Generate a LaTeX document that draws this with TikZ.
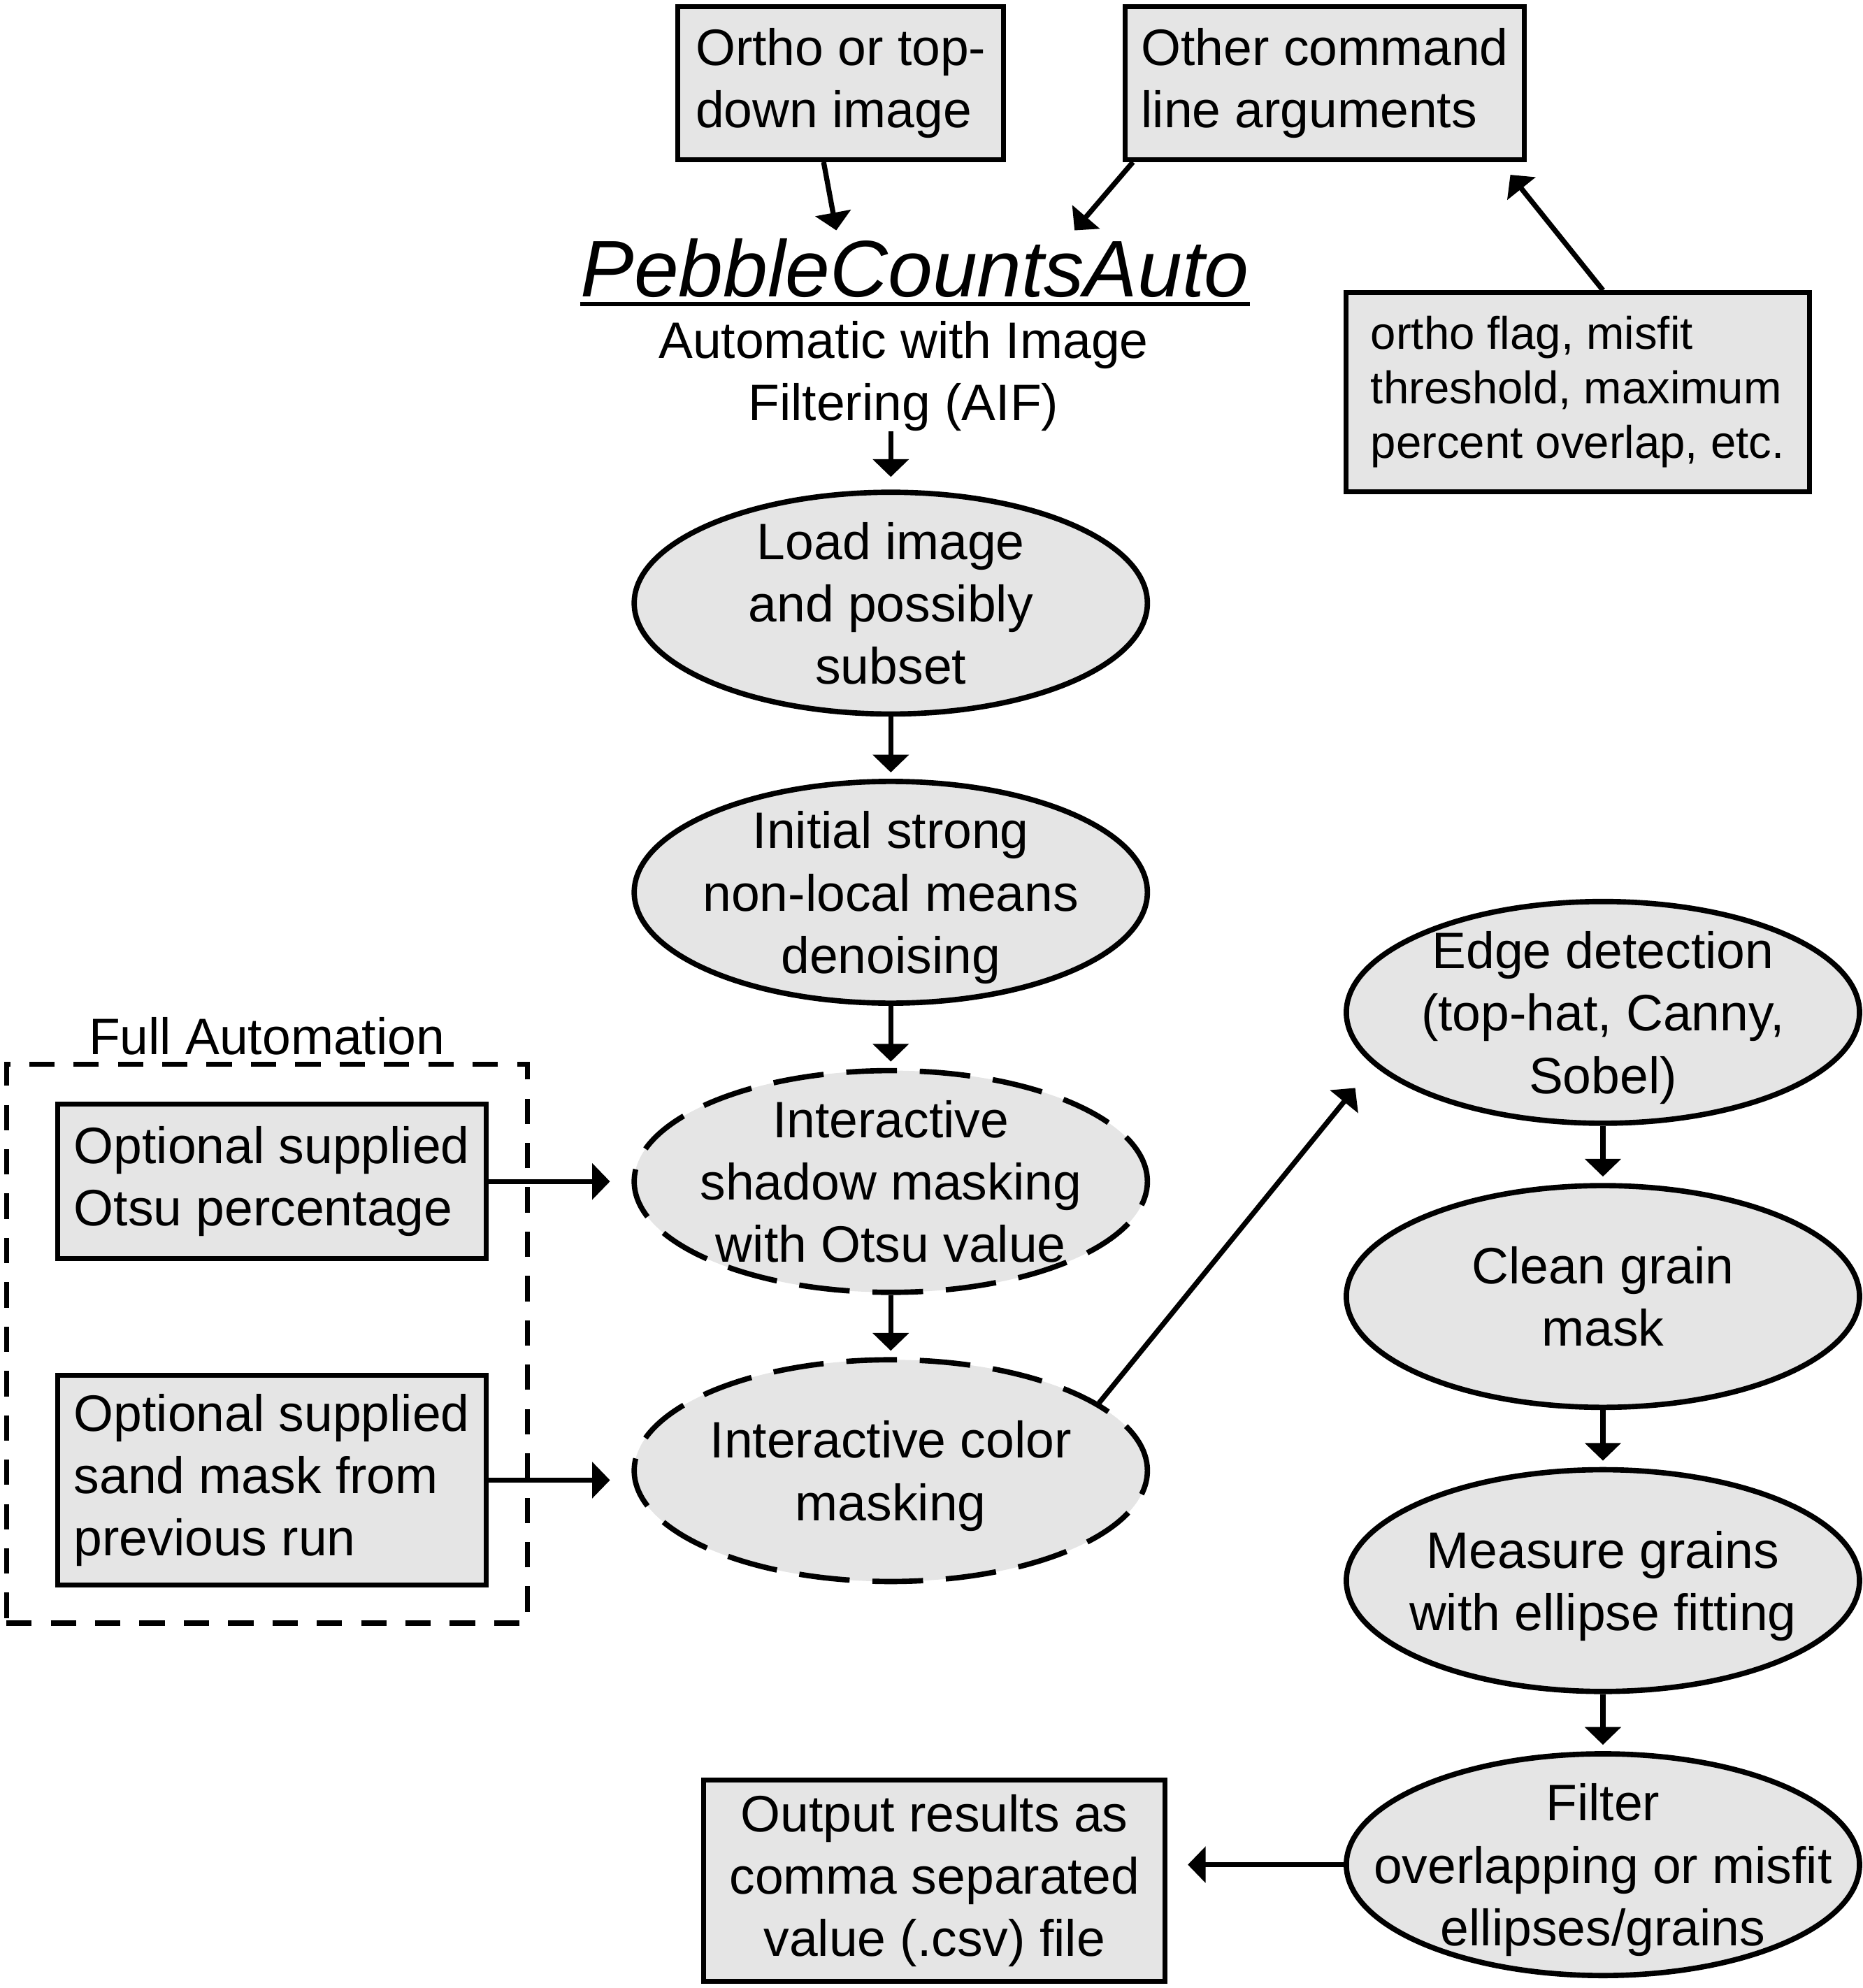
\documentclass[tikz,border=0pt]{standalone}
\usepackage{fontspec}
\setmainfont{Liberation Sans}
\usetikzlibrary{shapes.geometric, arrows.meta, positioning}

\begin{document}
\begin{tikzpicture}[
    x=0.2mm, y=-0.2mm,
    font=\fontsize{23}{28}\selectfont,
    box/.style={rectangle, draw, fill=black!10, line width=2.2pt, align=left, inner sep=0pt},
    proc/.style={ellipse, draw, fill=black!10, line width=2.4pt, align=center, minimum width=8.1cm, minimum height=3.5cm, inner sep=-3cm, text depth=0pt},
    dproc/.style={proc, dash pattern=on 0.8cm off 0.36cm},
    frame/.style={rectangle, draw, line width=2.2pt, dash pattern=on 0.4cm off 0.3cm, minimum width=8.22cm, minimum height=8.82cm},
    arrow/.style={-{Triangle[length=0.28cm, width=0.56cm]}, line width=2.3pt}
]
\useasboundingbox (0,0) rectangle (1470,1569);

% Top: inputs and program name
\node[box, minimum width=5.14cm, minimum height=2.42cm] (ortho) at (663.5,65.5) {Ortho or top-\\down image};
\node[box, minimum width=6.3cm, minimum height=2.42cm] (other) at (1045.5,65.5) {Other command\\line arguments};
\node[box, minimum width=7.32cm, minimum height=3.14cm, font=\fontsize{20.5}{24.5}\selectfont] (params) at (1245,309.5) {ortho flag, misfit\\threshold, maximum\\percent overlap, etc.};
\node[anchor=base, inner xsep=0pt, inner ysep=0.12cm, font=\fontsize{36}{40}\selectfont\itshape] (title) at (722,234) {PebbleCountsAuto};
\node[anchor=north, inner sep=0pt, align=center] (sub) at (713,253) {Automatic with Image\\Filtering (AIF)};

% Centre: processing steps
\node[proc] (load) at (703,476) {Load image\\and possibly\\subset};
\node[proc, below=0.98cm of load] (denoise) {Initial strong\\non-local means\\denoising};
\node[dproc, below=0.98cm of denoise] (shadow) {Interactive\\shadow masking\\with Otsu value};
\node[dproc, below=0.98cm of shadow] (color) {Interactive color\\masking};

% Left: full automation inputs
\node[frame] (auto) at (210.5,1060.5) {};
\node[above=0.1cm of auto, inner sep=0pt] (autolabel) {Full Automation};
\node[box, minimum width=6.76cm, minimum height=2.44cm, left=2.26cm of shadow] (otsu) {Optional supplied\\Otsu percentage};
\node[box, minimum width=6.76cm, minimum height=3.3cm, left=2.26cm of color, yshift=-0.15cm] (sand) {Optional supplied\\sand mask from\\previous run};

% Right: grain measurement
\node[proc] (edge) at (1265,799) {Edge detection\\(top-hat, Canny,\\Sobel)};
\node[proc, below=0.9cm of edge] (clean) {Clean grain\\mask};
\node[proc, below=0.9cm of clean] (measure) {Measure grains\\with ellipse fitting};
\node[proc, below=0.9cm of measure] (filter) {Filter\\overlapping or misfit\\ellipses/grains};
\node[box, align=center, minimum width=7.28cm, minimum height=3.18cm, left=2.78cm of filter, yshift=-0.25cm] (output) {Output results as\\comma separated\\value (.csv) file};

% Underline of the program name
\draw[line width=2pt] ([yshift=-0.12cm]title.base west) -- ([yshift=-0.12cm]title.base east);

% Arrows
\draw[arrow] ([xshift=-0.27cm]ortho.south) -- ([xshift=-1.24cm]title.north);
\draw[arrow] ([xshift=0.16cm]other.south west) -- ([xshift=2.52cm]title.north);
\draw[arrow] ([xshift=0.4cm]params.north) -- ([xshift=-0.26cm, yshift=-0.2cm]other.south east);
\draw[arrow, shorten >=0.2cm] (sub.south -| load.north) -- (load.north);
\draw[arrow, shorten >=0.1cm] (load) -- (denoise);
\draw[arrow, shorten >=0.1cm] (denoise) -- (shadow);
\draw[arrow, shorten >=0.1cm] (shadow) -- (color);
\draw[arrow, shorten >=0.34cm] (otsu.east) -- (otsu.east -| shadow.west);
\draw[arrow, shorten >=0.34cm] (sand.east) -- (sand.east -| color.west);
\draw[arrow, shorten >=0.46cm] (color.18) -- (edge.193);
\draw[arrow, shorten >=0.1cm] (edge) -- (clean);
\draw[arrow, shorten >=0.1cm] (clean) -- (measure);
\draw[arrow, shorten >=0.1cm] (measure) -- (filter);
\draw[arrow, shorten >=0.32cm] (filter.west) -- (filter.west -| output.east);

\end{tikzpicture}
\end{document}
